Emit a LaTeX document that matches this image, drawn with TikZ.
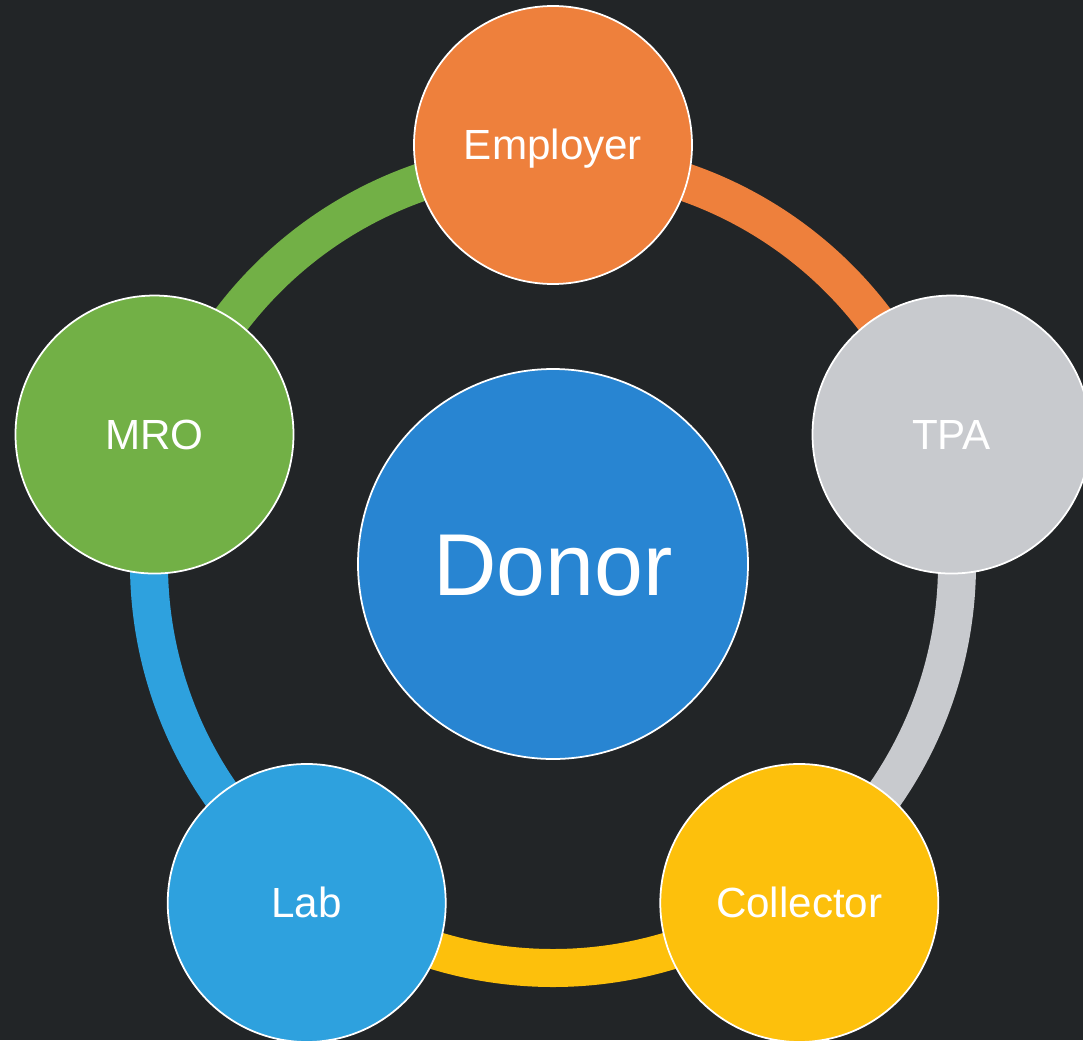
\documentclass[tikz,border=0pt]{standalone}
\usepackage{fontspec}
\setmainfont{Liberation Sans}
\definecolor{bgdark}{RGB}{34,37,39}
\definecolor{empOrange}{RGB}{238,128,60}
\definecolor{tpaGray}{RGB}{200,202,206}
\definecolor{colYellow}{RGB}{253,192,12}
\definecolor{labBlue}{RGB}{46,161,222}
\definecolor{mroGreen}{RGB}{114,176,70}
\definecolor{donorBlue}{RGB}{40,133,210}

\begin{document}
\begin{tikzpicture}[party/.style={circle, draw=white, line width=1pt,
  minimum size=5.56cm, inner sep=0pt, text=white,
  font=\fontsize{24}{28}\selectfont, text height=17pt, text depth=0pt},
  ring/.style={line width=0.76cm}]
\fill[bgdark, use as bounding box] (-11.06,-9.52) rectangle (10.6,11.28);

\coordinate (e) at (90:8.08);
\coordinate (t) at (18:8.08);
\coordinate (c) at (-54:8.08);
\coordinate (l) at (-126:8.08);
\coordinate (m) at (162:8.08);

\draw[ring, empOrange] (e) arc[start angle=90, end angle=18, radius=8.08];
\draw[ring, tpaGray] (t) arc[start angle=18, end angle=-54, radius=8.08];
\draw[ring, colYellow] (c) arc[start angle=-54, end angle=-126, radius=8.08];
\draw[ring, labBlue] (l) arc[start angle=-126, end angle=-198, radius=8.08];
\draw[ring, mroGreen] (m) arc[start angle=162, end angle=90, radius=8.08];

\node (employer) at (90:8.38) [party, fill=empOrange] {Employer};
\node (tpa) at (18:8.38) [party, fill=tpaGray] {TPA};
\node (collector) at (-54:8.38) [party, fill=colYellow] {Collector};
\node (lab) at (-126:8.38) [party, fill=labBlue] {Lab};
\node (mro) at (162:8.38) [party, fill=mroGreen] {MRO};

\node (donor) at (0,0) [party, fill=donorBlue, minimum size=7.8cm,
  font=\fontsize{50}{60}\selectfont, text height=36pt] {Donor};

\end{tikzpicture}
\end{document}
